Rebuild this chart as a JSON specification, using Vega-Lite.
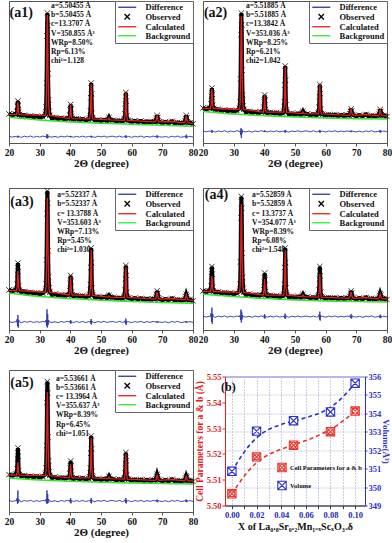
{
"$schema": "https://vega.github.io/schema/vega-lite/v6.json",
"padding": {"left": 0, "top": 0, "right": 0, "bottom": 0},
"background": "white",
"datasets": {
"xrd": [
{"x":20,"c1":28.7,"c2":34.6,"c3":39.7,"c4":38.7,"c5":37,"o1":29.1,"o2":35,"o3":40.1,"o4":39.1,"o5":37.4,"d1":6.9,"d2":12.2,"d3":8.6,"d4":14,"d5":11.6},
{"x":21,"o1":27.9,"o2":33.8,"o3":38.9,"o4":38,"o5":36.3,"d1":5.8,"d2":11.1,"d3":7.5,"d4":12.9,"d5":10.5},
{"x":22,"o1":28.8,"o2":34.7,"o3":39.6,"o4":38.8,"o5":37.2,"d1":6.6,"d2":11.9,"d3":8.3,"d4":13.7,"d5":11.3},
{"x":22.4,"c1":28.4,"c2":34.5,"c3":39.3,"c4":38.5,"c5":36.8,"o1":28.7,"o2":34.9,"o3":40.1,"o4":39.3,"o5":37.8,"d1":6.3,"d2":11.6,"d3":8,"d4":13.4,"d5":11},
{"x":22.65,"c1":30.6,"c2":37.9,"c3":42.8,"c4":41.2,"c5":39.1,"o1":31.5,"o2":39.2,"o3":45.8,"o4":44.4,"o5":43.3,"d1":6.7,"d2":12.2,"d3":10.8,"d4":17,"d5":14},
{"x":22.78,"c1":36.5,"c2":47,"c3":51.9,"c4":48.4,"c5":45.2,"o1":36.4,"o2":46.6,"o3":55.7,"o4":53.3,"o5":53,"d1":5.7,"d2":10.7,"d3":3.8,"d4":8,"d5":8},
{"x":22.9,"c1":41,"c2":54,"c3":59,"c4":54,"c5":50,"o1":42,"o2":55,"o3":67,"o4":63.5,"o5":64,"d1":7.3,"d2":13.1,"d3":15,"d4":22.4,"d5":21.5},
{"x":23.02,"c1":36.5,"c2":47,"c3":51.9,"c4":48.4,"c5":45.2,"o1":37.8,"o2":48.7,"o3":58.5,"o4":55.9,"o5":55.7,"d1":5.5,"d2":10.4,"d3":2.4,"d4":6.2,"d5":9},
{"x":23.15,"c1":30.6,"c2":37.9,"c3":42.8,"c4":41.2,"c5":39.1,"o1":30.5,"o2":37.7,"o3":43.8,"o4":42.6,"o5":41.4,"d1":6.6,"d2":12.1,"d3":10.1,"d4":16.1,"d5":13},
{"x":23.4,"c1":28.4,"c2":34.5,"c3":39.3,"c4":38.5,"c5":36.8,"o1":28.6,"o2":34.7,"o3":39.8,"o4":39,"o5":37.5,"d1":6.3,"d2":11.6,"d3":8,"d4":13.4,"d5":11},
{"x":24,"o1":27.3,"o2":33.3,"o3":38.1,"o4":37.5,"o5":35.9,"d1":5.6,"d2":10.9,"d3":7.3,"d4":12.7,"d5":10.3},
{"x":25,"o1":27.9,"o2":33.8,"o3":38.6,"o4":38.1,"o5":36.5,"d1":6.8,"d2":12.1,"d3":8.5,"d4":13.9,"d5":11.5},
{"x":26,"o1":26.5,"o2":32.4,"o3":37.1,"o4":36.7,"o5":35.2,"d1":6,"d2":11.3,"d3":7.7,"d4":13.1,"d5":10.7},
{"x":27,"o1":27.1,"o2":33.1,"o3":37.7,"o4":37.4,"o5":35.9,"d1":7,"d2":12.3,"d3":8.7,"d4":14.1,"d5":11.7},
{"x":28,"o1":26.1,"o2":32.1,"o3":36.7,"o4":36.5,"o5":35,"d1":5.7,"d2":11,"d3":7.4,"d4":12.8,"d5":10.4},
{"x":29,"o1":26.7,"o2":32.7,"o3":37.1,"o4":37,"o5":35.6,"d1":6.7,"d2":12,"d3":8.4,"d4":13.8,"d5":11.4},
{"x":30,"o1":25.5,"o2":31.5,"o3":35.9,"o4":35.9,"o5":34.5,"d1":5.9,"d2":11.2,"d3":7.6,"d4":13,"d5":10.6},
{"x":31,"o1":26.4,"o2":32.4,"o3":36.8,"o4":36.8,"o5":35.5,"d1":6.9,"d2":12.2,"d3":8.6,"d4":14,"d5":11.6},
{"x":31.9,"c1":27.6,"c2":33.5,"c3":37.8,"c4":37.7,"c5":36.4,"o1":28.6,"o2":34.6,"o3":39,"o4":38.8,"o5":37.6,"d1":6.3,"d2":11.6,"d3":8,"d4":13.4,"d5":11},
{"x":32.1,"c1":33.7,"c2":39.2,"c3":43.6,"c4":43.1,"c5":41.5,"o1":36,"o2":41.4,"o3":46.2,"o4":45.7,"o5":44.3,"d1":6.8,"d2":12.4,"d3":10,"d4":14.8,"d5":13},
{"x":32.25,"c1":56.3,"c2":60.2,"c3":64.7,"c4":62.8,"c5":60.3,"o1":60,"o2":64.1,"o3":69.9,"o4":68.1,"o5":66.3,"d1":5.1,"d2":8,"d3":4,"d4":9.9,"d5":8.5},
{"x":32.38,"c1":107.5,"c2":107.9,"c3":112.8,"c4":107.7,"c5":103,"o1":107,"o2":108.4,"o3":116.3,"o4":112,"o5":109.4,"d1":8.8,"d2":14.8,"d3":20.7,"d4":20.4,"d5":21.7},
{"x":32.5,"c1":128,"c2":127,"c3":132,"c4":125.7,"c5":120,"o1":130,"o2":130,"o3":139,"o4":133.5,"o5":130.5,"d1":4.6,"d2":5,"d3":2.4,"d4":7.4,"d5":8.4},
{"x":32.62,"c1":112.6,"c2":112.7,"c3":117.6,"c4":112.2,"c5":107.2,"o1":117.5,"o2":118.2,"o3":126.6,"o4":121.8,"o5":119,"d1":8.3,"d2":14,"d3":16,"d4":18.5,"d5":18},
{"x":32.75,"c1":71.6,"c2":74.5,"c3":79.1,"c4":76.3,"c5":73.1,"o1":69.4,"o2":72.9,"o3":79.2,"o4":76.9,"o5":75,"d1":5.3,"d2":9.6,"d3":5,"d4":10.6,"d5":9},
{"x":32.9,"c1":40.9,"c2":45.9,"c3":50.3,"c4":49.4,"c5":47.5,"o1":43.3,"o2":48.3,"o3":53.4,"o4":52.5,"o5":51,"d1":6.8,"d2":12.4,"d3":10,"d4":14.8,"d5":13},
{"x":33.1,"c1":30.6,"c2":36.4,"c3":40.7,"c4":40.4,"c5":39,"o1":31.8,"o2":37.5,"o3":42.1,"o4":41.8,"o5":40.4,"d1":6.3,"d2":11.6,"d3":8,"d4":13.4,"d5":11},
{"x":33.3,"c1":27.6,"c2":33.5,"c3":37.8,"c4":37.7,"c5":36.4,"o1":27.6,"o2":33.6,"o3":38,"o4":37.9,"o5":36.6,"d1":6.3,"d2":11.6,"d3":8,"d4":13.4,"d5":11},
{"x":34,"o1":24.9,"o2":31,"o3":35.3,"o4":35.3,"o5":34.2,"d1":5.8,"d2":11.1,"d3":7.5,"d4":12.9,"d5":10.5},
{"x":35,"o1":25.5,"o2":31.7,"o3":35.9,"o4":35.9,"o5":34.9,"d1":6.6,"d2":11.9,"d3":8.3,"d4":13.7,"d5":11.3},
{"x":36,"o1":24.2,"o2":30.4,"o3":34.6,"o4":34.6,"o5":33.6,"d1":5.6,"d2":10.9,"d3":7.3,"d4":12.7,"d5":10.3},
{"x":37,"o1":24.9,"o2":31.1,"o3":35.3,"o4":35.3,"o5":34.4,"d1":6.8,"d2":12.1,"d3":8.5,"d4":13.9,"d5":11.5},
{"x":38,"o1":24,"o2":30.2,"o3":34.4,"o4":34.4,"o5":33.6,"d1":6,"d2":11.3,"d3":7.7,"d4":13.1,"d5":10.7},
{"x":39,"o1":24.6,"o2":30.9,"o3":35,"o4":35,"o5":34.2,"d1":7,"d2":12.3,"d3":8.7,"d4":14.1,"d5":11.7},
{"x":39.6,"c1":24.4,"c2":30.8,"c3":35,"c4":34.9,"c5":34.1,"o1":24.7,"o2":31.2,"o3":35.4,"o4":35.5,"o5":34.6,"d1":6.3,"d2":11.6,"d3":8,"d4":13.4,"d5":11},
{"x":39.85,"c1":26.8,"c2":33.8,"c3":38.1,"c4":37.7,"c5":36.6,"o1":27.6,"o2":34.7,"o3":39.4,"o4":40.1,"o5":38,"d1":6.6,"d2":12,"d3":8.8,"d4":14.4,"d5":12.2},
{"x":39.98,"c1":33.1,"c2":41.8,"c3":46.5,"c4":45.2,"c5":43,"o1":32.7,"o2":40.9,"o3":46.5,"o4":48,"o5":44.1,"d1":5.8,"d2":11,"d3":6.8,"d4":11.9,"d5":9.2},
{"x":40.1,"c1":38,"c2":48,"c3":53,"c4":51,"c5":48,"o1":38.5,"o2":48,"o3":54.5,"o4":57,"o5":51,"d1":7.1,"d2":12.6,"d3":10,"d4":15.9,"d5":14},
{"x":40.22,"c1":33.1,"c2":41.8,"c3":46.5,"c4":45.2,"c5":43,"o1":34.2,"o2":42.7,"o3":48.5,"o4":50.2,"o5":45.8,"d1":5.7,"d2":10.8,"d3":6.4,"d4":11.4,"d5":8.6},
{"x":40.35,"c1":26.8,"c2":33.8,"c3":38.1,"c4":37.7,"c5":36.6,"o1":26.6,"o2":33.5,"o3":38,"o4":38.5,"o5":36.8,"d1":6.5,"d2":11.9,"d3":8.6,"d4":14.2,"d5":11.9},
{"x":40.6,"c1":24.4,"c2":30.8,"c3":35,"c4":34.9,"c5":34.1,"o1":24.6,"o2":31,"o3":35.2,"o4":35.3,"o5":34.4,"d1":6.3,"d2":11.6,"d3":8,"d4":13.4,"d5":11},
{"x":41,"o1":23.4,"o2":29.7,"o3":33.7,"o4":33.8,"o5":33.1,"d1":5.7,"d2":11,"d3":7.4,"d4":12.8,"d5":10.4},
{"x":42,"o1":24.3,"o2":30.6,"o3":34.7,"o4":34.7,"o5":34.1,"d1":6.7,"d2":12,"d3":8.4,"d4":13.8,"d5":11.4},
{"x":43,"o1":23.3,"o2":29.6,"o3":33.6,"o4":33.7,"o5":33.1,"d1":5.9,"d2":11.2,"d3":7.6,"d4":13,"d5":10.6},
{"x":44,"o1":24,"o2":30.3,"o3":34.2,"o4":34.3,"o5":33.8,"d1":6.9,"d2":12.2,"d3":8.6,"d4":14,"d5":11.6},
{"x":45,"o1":22.8,"o2":29.1,"o3":33,"o4":33.1,"o5":32.6,"d1":5.8,"d2":11.1,"d3":7.5,"d4":12.9,"d5":10.5},
{"x":46,"o1":23.5,"o2":29.8,"o3":33.7,"o4":33.9,"o5":33.4,"d1":6.6,"d2":11.9,"d3":8.3,"d4":13.7,"d5":11.3},
{"x":46.3,"c1":24.2,"c2":30.8,"c3":34.6,"c4":34.8,"c5":34.2,"o1":24.9,"o2":31.8,"o3":35.6,"o4":35.8,"o5":35.2,"d1":6.3,"d2":11.6,"d3":8,"d4":13.4,"d5":11},
{"x":46.55,"c1":30.3,"c2":38.7,"c3":42.6,"c4":42.7,"c5":41.2,"o1":32.3,"o2":41.3,"o3":45.4,"o4":45.6,"o5":43.8,"d1":6.7,"d2":12.2,"d3":9.2,"d4":14.6,"d5":12.2},
{"x":46.68,"c1":46.4,"c2":59.7,"c3":63.6,"c4":63.7,"c5":59.7,"o1":45.2,"o2":58,"o3":62.5,"o4":62.6,"o5":58.8,"d1":5.7,"d2":10.7,"d3":6.2,"d4":11.6,"d5":9.2},
{"x":46.8,"c1":59,"c2":76,"c3":80,"c4":80,"c5":74,"o1":60,"o2":77,"o3":82,"o4":82,"o5":76,"d1":7.3,"d2":13.1,"d3":11,"d4":16.4,"d5":14},
{"x":46.92,"c1":46.4,"c2":59.7,"c3":63.6,"c4":63.7,"c5":59.7,"o1":48.9,"o2":62.7,"o3":67.4,"o4":67.4,"o5":63.1,"d1":5.5,"d2":10.4,"d3":5.6,"d4":11,"d5":8.6},
{"x":47.05,"c1":30.3,"c2":38.7,"c3":42.6,"c4":42.7,"c5":41.2,"o1":29.7,"o2":38,"o3":42,"o4":42.1,"o5":40.7,"d1":6.6,"d2":12.1,"d3":8.9,"d4":14.3,"d5":11.9},
{"x":47.3,"c1":24.2,"c2":30.8,"c3":34.6,"c4":34.8,"c5":34.2,"o1":24.6,"o2":31.3,"o3":35.2,"o4":35.3,"o5":34.7,"d1":6.3,"d2":11.6,"d3":8,"d4":13.4,"d5":11},
{"x":48,"o1":22.6,"o2":28.9,"o3":32.6,"o4":32.9,"o5":32.5,"d1":5.6,"d2":10.9,"d3":7.3,"d4":12.7,"d5":10.3},
{"x":49,"o1":23.2,"o2":29.5,"o3":33.3,"o4":33.5,"o5":33.2,"d1":6.8,"d2":12.1,"d3":8.5,"d4":13.9,"d5":11.5},
{"x":50,"o1":22.2,"o2":28.5,"o3":32.2,"o4":32.5,"o5":32.2,"d1":6,"d2":11.3,"d3":7.7,"d4":13.1,"d5":10.7},
{"x":51,"o1":23.2,"o2":29.5,"o3":33.2,"o4":33.5,"o5":33.2,"d1":7,"d2":12.3,"d3":8.7,"d4":14.1,"d5":11.7},
{"x":52,"o1":22.2,"o2":28.5,"o3":32.1,"o4":32.5,"o5":32.3,"d1":5.7,"d2":11,"d3":7.4,"d4":12.8,"d5":10.4},
{"x":52.3,"c1":23.2,"c2":29.4,"c3":32.9,"c4":33.4,"c5":33.3,"o1":23.3,"o2":29.5,"o3":33,"o4":33.5,"o5":33.4,"d1":6.6,"d2":11.9,"d3":8.3,"d4":13.7,"d5":11.3},
{"x":52.6,"c1":25,"c2":31,"c3":34,"c4":35,"c5":35,"o1":25.5,"o2":31.5,"o3":34.5,"o4":35.5,"o5":35.5,"d1":5.8,"d2":11.1,"d3":7.5,"d4":12.9,"d5":10.5},
{"x":52.9,"c1":23.2,"c2":29.4,"c3":32.9,"c4":33.4,"c5":33.3,"o1":23.4,"o2":29.6,"o3":33,"o4":33.5,"o5":33.4,"d1":6.7,"d2":12,"d3":8.4,"d4":13.8,"d5":11.4},
{"x":54,"o1":22.8,"o2":29.1,"o3":32.7,"o4":33.1,"o5":32.9,"d1":6.7,"d2":12,"d3":8.4,"d4":13.8,"d5":11.4},
{"x":55,"o1":21.6,"o2":27.9,"o3":31.5,"o4":31.9,"o5":31.8,"d1":5.9,"d2":11.2,"d3":7.6,"d4":13,"d5":10.6},
{"x":56,"o1":22.4,"o2":28.7,"o3":32.2,"o4":32.7,"o5":32.6,"d1":6.9,"d2":12.2,"d3":8.6,"d4":14,"d5":11.6},
{"x":57,"o1":21.6,"o2":27.9,"o3":31.4,"o4":31.9,"o5":31.8,"d1":5.8,"d2":11.1,"d3":7.5,"d4":12.9,"d5":10.5},
{"x":57.6,"c1":22.7,"c2":29.1,"c3":32.5,"c4":32.9,"c5":32.9,"o1":23.3,"o2":29.7,"o3":33.2,"o4":33.8,"o5":33.5,"d1":6.3,"d2":11.6,"d3":8,"d4":13.4,"d5":11},
{"x":57.85,"c1":27.5,"c2":34.2,"c3":37.9,"c4":37,"c5":37.3,"o1":29.1,"o2":35.8,"o3":39.8,"o4":40,"o5":39,"d1":6.9,"d2":12.2,"d3":9.4,"d4":15.4,"d5":12.2},
{"x":57.98,"c1":40.2,"c2":47.6,"c3":52,"c4":47.7,"c5":48.9,"o1":39.1,"o2":46.4,"o3":51.3,"o4":51,"o5":48.5,"d1":5.4,"d2":10.7,"d3":5.9,"d4":10.4,"d5":9.2},
{"x":58.1,"c1":50,"c2":58,"c3":63,"c4":56,"c5":58,"o1":50.5,"o2":58.5,"o3":64.5,"o4":63.5,"o5":59.5,"d1":7.8,"d2":13.1,"d3":11.5,"d4":18.4,"d5":14},
{"x":58.22,"c1":40.2,"c2":47.6,"c3":52,"c4":47.7,"c5":48.9,"o1":41.9,"o2":49.4,"o3":54.6,"o4":54.1,"o5":51.3,"d1":5.1,"d2":10.4,"d3":5.2,"d4":9.4,"d5":8.6},
{"x":58.35,"c1":27.5,"c2":34.2,"c3":37.9,"c4":37,"c5":37.3,"o1":27,"o2":33.7,"o3":37.5,"o4":37.8,"o5":37,"d1":6.8,"d2":12.1,"d3":9.1,"d4":14.9,"d5":11.9},
{"x":58.6,"c1":22.7,"c2":29.1,"c3":32.5,"c4":32.9,"c5":32.9,"o1":23,"o2":29.4,"o3":32.9,"o4":33.5,"o5":33.2,"d1":6.3,"d2":11.6,"d3":8,"d4":13.4,"d5":11},
{"x":59,"o1":22.2,"o2":28.5,"o3":31.9,"o4":32.5,"o5":32.5,"d1":6.6,"d2":11.9,"d3":8.3,"d4":13.7,"d5":11.3},
{"x":60,"o1":21.2,"o2":27.5,"o3":30.9,"o4":31.5,"o5":31.5,"d1":5.6,"d2":10.9,"d3":7.3,"d4":12.7,"d5":10.3},
{"x":61,"o1":22.2,"o2":28.5,"o3":31.9,"o4":32.5,"o5":32.5,"d1":6.8,"d2":12.1,"d3":8.5,"d4":13.9,"d5":11.5},
{"x":62,"o1":21.2,"o2":27.6,"o3":30.9,"o4":31.6,"o5":31.6,"d1":6,"d2":11.3,"d3":7.7,"d4":13.1,"d5":10.7},
{"x":63,"o1":21.9,"o2":28.3,"o3":31.6,"o4":32.3,"o5":32.3,"d1":7,"d2":12.3,"d3":8.7,"d4":14.1,"d5":11.7},
{"x":64,"o1":20.7,"o2":27.1,"o3":30.4,"o4":31.2,"o5":31.2,"d1":5.7,"d2":11,"d3":7.4,"d4":12.8,"d5":10.4},
{"x":65,"o1":21.5,"o2":28,"o3":31.2,"o4":32,"o5":32,"d1":6.7,"d2":12,"d3":8.4,"d4":13.8,"d5":11.4},
{"x":66,"o1":20.7,"o2":27.2,"o3":30.4,"o4":31.2,"o5":31.2,"d1":5.9,"d2":11.2,"d3":7.6,"d4":13,"d5":10.6},
{"x":67,"o1":21.4,"o2":27.9,"o3":31.1,"o4":32,"o5":32,"d1":6.9,"d2":12.2,"d3":8.6,"d4":14,"d5":11.6},
{"x":67.6,"c1":21.1,"c2":27.6,"c3":30.8,"c4":31.7,"c5":31.7,"o1":21.2,"o2":27.7,"o3":31,"o4":31.9,"o5":31.8,"d1":6.3,"d2":11.6,"d3":8,"d4":13.4,"d5":11},
{"x":67.95,"c1":22.1,"c2":28.7,"c3":32.1,"c4":32.8,"c5":32.6,"o1":22.6,"o2":29.1,"o3":32.7,"o4":33.4,"o5":33,"d1":6.9,"d2":12,"d3":8.4,"d4":14.4,"d5":11.6},
{"x":68.12,"c1":24.9,"c2":31.7,"c3":35.4,"c4":35.7,"c5":35.1,"o1":24.9,"o2":31.4,"o3":35.6,"o4":36,"o5":35.1,"d1":5.4,"d2":11,"d3":7.4,"d4":11.9,"d5":10.1},
{"x":68.3,"c1":27,"c2":34,"c3":38,"c4":38,"c5":37,"o1":27.5,"o2":34,"o3":39,"o4":39,"o5":37.5,"d1":7.8,"d2":12.6,"d3":9,"d4":15.9,"d5":12.5},
{"x":68.48,"c1":24.9,"c2":31.7,"c3":35.4,"c4":35.7,"c5":35.1,"o1":25.5,"o2":32,"o3":36.5,"o4":36.8,"o5":35.7,"d1":5.1,"d2":10.8,"d3":7.2,"d4":11.4,"d5":9.8},
{"x":68.65,"c1":22.1,"c2":28.7,"c3":32.1,"c4":32.8,"c5":32.6,"o1":22.1,"o2":28.6,"o3":32.1,"o4":32.9,"o5":32.6,"d1":6.8,"d2":11.9,"d3":8.3,"d4":14.2,"d5":11.5},
{"x":69,"c1":21.1,"c2":27.6,"c3":30.8,"c4":31.7,"c5":31.7,"o1":21.2,"o2":27.7,"o3":30.9,"o4":31.8,"o5":31.7,"d1":6.3,"d2":11.6,"d3":8,"d4":13.4,"d5":11},
{"x":70,"o1":20.2,"o2":26.8,"o3":29.9,"o4":30.9,"o5":30.9,"d1":5.8,"d2":11.1,"d3":7.5,"d4":12.9,"d5":10.5},
{"x":71,"o1":21.2,"o2":27.9,"o3":30.9,"o4":32,"o5":32,"d1":6.6,"d2":11.9,"d3":8.3,"d4":13.7,"d5":11.3},
{"x":72,"o1":20.2,"o2":26.9,"o3":30,"o4":31,"o5":31,"d1":5.6,"d2":10.9,"d3":7.3,"d4":12.7,"d5":10.3},
{"x":73.2,"c1":21.5,"c2":28.5,"c3":31.5,"c4":32.5,"c5":32.5,"o1":21.7,"o2":28.6,"o3":31.6,"o4":32.6,"o5":32.6,"d1":6.8,"d2":12.1,"d3":8.5,"d4":13.9,"d5":11.5},
{"x":74,"o1":19.7,"o2":26.6,"o3":29.5,"o4":30.6,"o5":30.6,"d1":6,"d2":11.3,"d3":7.7,"d4":13.1,"d5":10.7},
{"x":75,"o1":20.5,"o2":27.5,"o3":30.4,"o4":31.5,"o5":31.5,"d1":7,"d2":12.3,"d3":8.7,"d4":14.1,"d5":11.7},
{"x":76,"o1":19.7,"o2":26.7,"o3":29.6,"o4":30.8,"o5":30.8,"d1":5.7,"d2":11,"d3":7.4,"d4":12.8,"d5":10.4},
{"x":77.1,"c1":20.1,"c2":27.3,"c3":30.1,"c4":31.2,"c5":31.2,"o1":20.3,"o2":27.4,"o3":30.2,"o4":31.4,"o5":31.3,"d1":6.3,"d2":11.6,"d3":8,"d4":13.4,"d5":11},
{"x":77.45,"c1":21.3,"c2":28.3,"c3":30.9,"c4":32.1,"c5":32,"o1":21.8,"o2":28.7,"o3":31.3,"o4":32.5,"o5":32.3,"d1":7.1,"d2":12.2,"d3":8.4,"d4":14.2,"d5":11.6},
{"x":77.62,"c1":24.5,"c2":30.9,"c3":33.2,"c4":34.3,"c5":34,"o1":24.5,"o2":30.9,"o3":33.3,"o4":34.3,"o5":34,"d1":5.1,"d2":10.7,"d3":7.4,"d4":12.2,"d5":10.1},
{"x":77.8,"c1":27,"c2":33,"c3":35,"c4":36,"c5":35.5,"o1":27.5,"o2":33.5,"o3":35.5,"o4":36.5,"o5":36,"d1":8.3,"d2":13.1,"d3":9,"d4":15.4,"d5":12.5},
{"x":77.98,"c1":24.5,"c2":30.9,"c3":33.2,"c4":34.3,"c5":34,"o1":25.2,"o2":31.6,"o3":33.8,"o4":34.9,"o5":34.5,"d1":4.7,"d2":10.4,"d3":7.2,"d4":11.8,"d5":9.8},
{"x":78.15,"c1":21.3,"c2":28.3,"c3":30.9,"c4":32.1,"c5":32,"o1":21.3,"o2":28.3,"o3":30.9,"o4":32.1,"o5":32,"d1":6.9,"d2":12.1,"d3":8.3,"d4":14,"d5":11.5},
{"x":78.5,"c1":20.1,"c2":27.3,"c3":30.1,"c4":31.2,"c5":31.2,"o1":20.2,"o2":27.4,"o3":30.1,"o4":31.3,"o5":31.3,"d1":6.3,"d2":11.6,"d3":8,"d4":13.4,"d5":11},
{"x":79,"o1":20.2,"o2":27.4,"o3":30.2,"o4":31.4,"o5":31.4,"d1":6.7,"d2":12,"d3":8.4,"d4":13.8,"d5":11.4},
{"x":80,"c1":19.7,"c2":27,"c3":29.7,"c4":31,"c5":31,"o1":19.2,"o2":26.5,"o3":29.2,"o4":30.5,"o5":30.5,"d1":5.9,"d2":11.2,"d3":7.6,"d4":13,"d5":10.6}
],
"bgd": [
{"x":20,"g1":25.7,"g2":31.6,"g3":36.7,"g4":35.7,"g5":34},
{"x":30,"g1":23,"g2":29,"g3":33.4,"g4":33.4,"g5":32},
{"x":40,"g1":21,"g2":27.3,"g3":31.4,"g4":31.4,"g5":30.7},
{"x":50,"g1":19.7,"g2":26,"g3":29.7,"g4":30,"g5":29.7},
{"x":60,"g1":18.7,"g2":25,"g3":28.4,"g4":29,"g5":29},
{"x":70,"g1":17.7,"g2":24.3,"g3":27.4,"g4":28.4,"g5":28.4},
{"x":80,"g1":16.7,"g2":24,"g3":26.7,"g4":28,"g5":28}
],
"cell": [
{"x":0,"a":5.50455,"v":350.855},
{"x":0.02,"a":5.51885,"v":353.036},
{"x":0.05,"a":5.52337,"v":353.603},
{"x":0.08,"a":5.52859,"v":354.077},
{"x":0.1,"a":5.53661,"v":355.637}
],
"lab": [
{"p":"a1","t":"(a1)","s":"a=5.50455 Å\nb=5.50455 Å\nc=13.3707 Å\nV=350.855 Å³\nWRp=8.50%\nRp=6.13%\nchi²=1.128"},
{"p":"a2","t":"(a2)","s":"a=5.51885 Å\nb=5.51885 Å\nc=13.3842 Å\nV=353.036 Å³\nWRp=8.25%\nRp=6.21%\nchi2=1.042"},
{"p":"a3","t":"(a3)","s":"a=5.52337 Å\nb=5.52337 Å\nc= 13.3788 Å\nV=353.603 Å³\nWRp=7.13%\nRp=5.45%\nchi²=1.030"},
{"p":"a4","t":"(a4)","s":"a=5.52859 Å\nb=5.52859 Å\nc= 13.3737 Å\nV=354.077 Å³\nWRp=8.39%\nRp=6.08%\nchi²=1.548"},
{"p":"a5","t":"(a5)","s":"a=5.53661 Å\nb=5.53661 Å\nc= 13.3964 Å\nV=355.637 Å³\nWRp=8.39%\nRp=6.45%\nchi²=1.051"},
{"p":"b","t":"(b)","s":""}
]
},
"spacing": 13,
"resolve": {"scale": {"color": "independent", "shape": "independent"}},
"vconcat": [
{"hconcat": [
{"width": 184, "height": 142,
"layer": [
{"data": {"name": "xrd"}, "mark": {"type": "line", "color": "#000000", "strokeWidth": 4}, "encoding": {"x": {"field": "x", "type": "quantitative", "scale": {"domain": [20, 80], "nice": false, "zero": false}, "axis": {"values": [20,30,40,50,60,70,80], "title": "2Θ (degree)"}}, "y": {"field": "o1", "type": "quantitative", "scale": {"domain": [0, 142], "nice": false, "zero": false}, "axis": null}}},
{"data": {"name": "xrd"}, "mark": {"type": "point", "filled": false, "size": 36, "strokeWidth": 0.8, "opacity": 1}, "encoding": {"x": {"field": "x", "type": "quantitative", "scale": {"domain": [20, 80], "nice": false, "zero": false}, "axis": {"values": [20,30,40,50,60,70,80], "title": "2Θ (degree)"}}, "y": {"field": "o1", "type": "quantitative", "scale": {"domain": [0, 142], "nice": false, "zero": false}, "axis": null},
 "color": {"datum": "Observed", "type": "nominal", "scale": {"domain": ["Difference","Observed","Calculated","Background"], "range": ["#2a36a8","#000000","#e41e1e","#2be82b"]}, "legend": {"title": null, "orient": "top-right", "offset": 0, "symbolOffset": 6, "labelOffset": 14, "padding": 2, "rowPadding": -1.5, "strokeColor": "#666", "fillColor": "#ffffff", "labelFontSize": 8.5, "symbolStrokeWidth": 1.3, "symbolSize": 36}},
 "shape": {"datum": "Observed", "type": "nominal", "scale": {"domain": ["Difference","Observed","Calculated","Background"], "range": ["M-3,0H3","M-0.9,-0.9L0.9,0.9M-0.9,0.9L0.9,-0.9","M-3,0H3","M-3,0H3"]}, "legend": {"title": null, "orient": "top-right", "offset": 0, "symbolOffset": 6, "labelOffset": 14, "padding": 2, "rowPadding": -1.5, "strokeColor": "#666", "fillColor": "#ffffff", "labelFontSize": 8.5, "symbolStrokeWidth": 1.3, "symbolSize": 36}}}},
{"data": {"name": "xrd"}, "mark": {"type": "line", "color": "#e41e1e", "strokeWidth": 1.3, "invalid": "filter"}, "encoding": {"x": {"field": "x", "type": "quantitative", "scale": {"domain": [20, 80], "nice": false, "zero": false}, "axis": {"values": [20,30,40,50,60,70,80], "title": "2Θ (degree)"}}, "y": {"field": "c1", "type": "quantitative", "scale": {"domain": [0, 142], "nice": false, "zero": false}, "axis": null}}},
{"data": {"name": "bgd"}, "mark": {"type": "line", "color": "#2be82b", "strokeWidth": 1.5, "interpolate": "monotone"}, "encoding": {"x": {"field": "x", "type": "quantitative", "scale": {"domain": [20, 80], "nice": false, "zero": false}, "axis": {"values": [20,30,40,50,60,70,80], "title": "2Θ (degree)"}}, "y": {"field": "g1", "type": "quantitative", "scale": {"domain": [0, 142], "nice": false, "zero": false}, "axis": null}}},
{"data": {"name": "xrd"}, "mark": {"type": "line", "color": "#2a36a8", "strokeWidth": 0.9}, "encoding": {"x": {"field": "x", "type": "quantitative", "scale": {"domain": [20, 80], "nice": false, "zero": false}, "axis": {"values": [20,30,40,50,60,70,80], "title": "2Θ (degree)"}}, "y": {"field": "d1", "type": "quantitative", "scale": {"domain": [0, 142], "nice": false, "zero": false}, "axis": null}}},
{"data": {"name": "lab"}, "transform": [{"filter": "datum.p == 'a1'"}], "mark": {"type": "text", "fontSize": 14, "fontWeight": "bold", "align": "left", "baseline": "middle", "fill": "#111"}, "encoding": {"x": {"datum": 20.2, "type": "quantitative", "scale": {"domain": [20, 80], "nice": false, "zero": false}, "axis": {"values": [20,30,40,50,60,70,80], "title": "2Θ (degree)"}}, "y": {"datum": 129.7, "type": "quantitative", "scale": {"domain": [0, 142], "nice": false, "zero": false}, "axis": null}, "text": {"field": "t", "type": "nominal"}}},
{"data": {"name": "lab"}, "transform": [{"filter": "datum.p == 'a1'"}], "mark": {"type": "text", "fontSize": 7.5, "fontWeight": "bold", "align": "left", "baseline": "top", "lineBreak": "\n", "lineHeight": 9.2, "fill": "#111"}, "encoding": {"x": {"datum": 33.7, "type": "quantitative", "scale": {"domain": [20, 80], "nice": false, "zero": false}, "axis": {"values": [20,30,40,50,60,70,80], "title": "2Θ (degree)"}}, "y": {"datum": 141, "type": "quantitative", "scale": {"domain": [0, 142], "nice": false, "zero": false}, "axis": null}, "text": {"field": "s", "type": "nominal"}}}
]},
{"width": 184, "height": 142,
"layer": [
{"data": {"name": "xrd"}, "mark": {"type": "line", "color": "#000000", "strokeWidth": 4}, "encoding": {"x": {"field": "x", "type": "quantitative", "scale": {"domain": [20, 80], "nice": false, "zero": false}, "axis": {"values": [20,30,40,50,60,70,80], "title": "2Θ (degree)"}}, "y": {"field": "o2", "type": "quantitative", "scale": {"domain": [0, 142], "nice": false, "zero": false}, "axis": null}}},
{"data": {"name": "xrd"}, "mark": {"type": "point", "filled": false, "size": 36, "strokeWidth": 0.8, "opacity": 1}, "encoding": {"x": {"field": "x", "type": "quantitative", "scale": {"domain": [20, 80], "nice": false, "zero": false}, "axis": {"values": [20,30,40,50,60,70,80], "title": "2Θ (degree)"}}, "y": {"field": "o2", "type": "quantitative", "scale": {"domain": [0, 142], "nice": false, "zero": false}, "axis": null},
 "color": {"datum": "Observed", "type": "nominal", "scale": {"domain": ["Difference","Observed","Calculated","Background"], "range": ["#2a36a8","#000000","#e41e1e","#2be82b"]}, "legend": {"title": null, "orient": "top-right", "offset": 0, "symbolOffset": 6, "labelOffset": 14, "padding": 2, "rowPadding": -1.5, "strokeColor": "#666", "fillColor": "#ffffff", "labelFontSize": 8.5, "symbolStrokeWidth": 1.3, "symbolSize": 36}},
 "shape": {"datum": "Observed", "type": "nominal", "scale": {"domain": ["Difference","Observed","Calculated","Background"], "range": ["M-3,0H3","M-0.9,-0.9L0.9,0.9M-0.9,0.9L0.9,-0.9","M-3,0H3","M-3,0H3"]}, "legend": {"title": null, "orient": "top-right", "offset": 0, "symbolOffset": 6, "labelOffset": 14, "padding": 2, "rowPadding": -1.5, "strokeColor": "#666", "fillColor": "#ffffff", "labelFontSize": 8.5, "symbolStrokeWidth": 1.3, "symbolSize": 36}}}},
{"data": {"name": "xrd"}, "mark": {"type": "line", "color": "#e41e1e", "strokeWidth": 1.3, "invalid": "filter"}, "encoding": {"x": {"field": "x", "type": "quantitative", "scale": {"domain": [20, 80], "nice": false, "zero": false}, "axis": {"values": [20,30,40,50,60,70,80], "title": "2Θ (degree)"}}, "y": {"field": "c2", "type": "quantitative", "scale": {"domain": [0, 142], "nice": false, "zero": false}, "axis": null}}},
{"data": {"name": "bgd"}, "mark": {"type": "line", "color": "#2be82b", "strokeWidth": 1.5, "interpolate": "monotone"}, "encoding": {"x": {"field": "x", "type": "quantitative", "scale": {"domain": [20, 80], "nice": false, "zero": false}, "axis": {"values": [20,30,40,50,60,70,80], "title": "2Θ (degree)"}}, "y": {"field": "g2", "type": "quantitative", "scale": {"domain": [0, 142], "nice": false, "zero": false}, "axis": null}}},
{"data": {"name": "xrd"}, "mark": {"type": "line", "color": "#2a36a8", "strokeWidth": 0.9}, "encoding": {"x": {"field": "x", "type": "quantitative", "scale": {"domain": [20, 80], "nice": false, "zero": false}, "axis": {"values": [20,30,40,50,60,70,80], "title": "2Θ (degree)"}}, "y": {"field": "d2", "type": "quantitative", "scale": {"domain": [0, 142], "nice": false, "zero": false}, "axis": null}}},
{"data": {"name": "lab"}, "transform": [{"filter": "datum.p == 'a2'"}], "mark": {"type": "text", "fontSize": 14, "fontWeight": "bold", "align": "left", "baseline": "middle", "fill": "#111"}, "encoding": {"x": {"datum": 20.3, "type": "quantitative", "scale": {"domain": [20, 80], "nice": false, "zero": false}, "axis": {"values": [20,30,40,50,60,70,80], "title": "2Θ (degree)"}}, "y": {"datum": 129.7, "type": "quantitative", "scale": {"domain": [0, 142], "nice": false, "zero": false}, "axis": null}, "text": {"field": "t", "type": "nominal"}}},
{"data": {"name": "lab"}, "transform": [{"filter": "datum.p == 'a2'"}], "mark": {"type": "text", "fontSize": 7.5, "fontWeight": "bold", "align": "left", "baseline": "top", "lineBreak": "\n", "lineHeight": 9.2, "fill": "#111"}, "encoding": {"x": {"datum": 34.0, "type": "quantitative", "scale": {"domain": [20, 80], "nice": false, "zero": false}, "axis": {"values": [20,30,40,50,60,70,80], "title": "2Θ (degree)"}}, "y": {"datum": 141, "type": "quantitative", "scale": {"domain": [0, 142], "nice": false, "zero": false}, "axis": null}, "text": {"field": "s", "type": "nominal"}}}
]}
], "spacing": 10, "bounds": "flush", "resolve": {"scale": {"color": "independent", "shape": "independent"}}},
{"hconcat": [
{"width": 184, "height": 142,
"layer": [
{"data": {"name": "xrd"}, "mark": {"type": "line", "color": "#000000", "strokeWidth": 4}, "encoding": {"x": {"field": "x", "type": "quantitative", "scale": {"domain": [20, 80], "nice": false, "zero": false}, "axis": {"values": [20,30,40,50,60,70,80], "title": "2Θ (degree)"}}, "y": {"field": "o3", "type": "quantitative", "scale": {"domain": [0, 142], "nice": false, "zero": false}, "axis": null}}},
{"data": {"name": "xrd"}, "mark": {"type": "point", "filled": false, "size": 36, "strokeWidth": 0.8, "opacity": 1}, "encoding": {"x": {"field": "x", "type": "quantitative", "scale": {"domain": [20, 80], "nice": false, "zero": false}, "axis": {"values": [20,30,40,50,60,70,80], "title": "2Θ (degree)"}}, "y": {"field": "o3", "type": "quantitative", "scale": {"domain": [0, 142], "nice": false, "zero": false}, "axis": null},
 "color": {"datum": "Observed", "type": "nominal", "scale": {"domain": ["Difference","Observed","Calculated","Background"], "range": ["#2a36a8","#000000","#e41e1e","#2be82b"]}, "legend": {"title": null, "orient": "top-right", "offset": 0, "symbolOffset": 6, "labelOffset": 14, "padding": 2, "rowPadding": -1.5, "strokeColor": "#666", "fillColor": "#ffffff", "labelFontSize": 8.5, "symbolStrokeWidth": 1.3, "symbolSize": 36}},
 "shape": {"datum": "Observed", "type": "nominal", "scale": {"domain": ["Difference","Observed","Calculated","Background"], "range": ["M-3,0H3","M-0.9,-0.9L0.9,0.9M-0.9,0.9L0.9,-0.9","M-3,0H3","M-3,0H3"]}, "legend": {"title": null, "orient": "top-right", "offset": 0, "symbolOffset": 6, "labelOffset": 14, "padding": 2, "rowPadding": -1.5, "strokeColor": "#666", "fillColor": "#ffffff", "labelFontSize": 8.5, "symbolStrokeWidth": 1.3, "symbolSize": 36}}}},
{"data": {"name": "xrd"}, "mark": {"type": "line", "color": "#e41e1e", "strokeWidth": 1.3, "invalid": "filter"}, "encoding": {"x": {"field": "x", "type": "quantitative", "scale": {"domain": [20, 80], "nice": false, "zero": false}, "axis": {"values": [20,30,40,50,60,70,80], "title": "2Θ (degree)"}}, "y": {"field": "c3", "type": "quantitative", "scale": {"domain": [0, 142], "nice": false, "zero": false}, "axis": null}}},
{"data": {"name": "bgd"}, "mark": {"type": "line", "color": "#2be82b", "strokeWidth": 1.5, "interpolate": "monotone"}, "encoding": {"x": {"field": "x", "type": "quantitative", "scale": {"domain": [20, 80], "nice": false, "zero": false}, "axis": {"values": [20,30,40,50,60,70,80], "title": "2Θ (degree)"}}, "y": {"field": "g3", "type": "quantitative", "scale": {"domain": [0, 142], "nice": false, "zero": false}, "axis": null}}},
{"data": {"name": "xrd"}, "mark": {"type": "line", "color": "#2a36a8", "strokeWidth": 0.9}, "encoding": {"x": {"field": "x", "type": "quantitative", "scale": {"domain": [20, 80], "nice": false, "zero": false}, "axis": {"values": [20,30,40,50,60,70,80], "title": "2Θ (degree)"}}, "y": {"field": "d3", "type": "quantitative", "scale": {"domain": [0, 142], "nice": false, "zero": false}, "axis": null}}},
{"data": {"name": "lab"}, "transform": [{"filter": "datum.p == 'a3'"}], "mark": {"type": "text", "fontSize": 14, "fontWeight": "bold", "align": "left", "baseline": "middle", "fill": "#111"}, "encoding": {"x": {"datum": 20.4, "type": "quantitative", "scale": {"domain": [20, 80], "nice": false, "zero": false}, "axis": {"values": [20,30,40,50,60,70,80], "title": "2Θ (degree)"}}, "y": {"datum": 128.3, "type": "quantitative", "scale": {"domain": [0, 142], "nice": false, "zero": false}, "axis": null}, "text": {"field": "t", "type": "nominal"}}},
{"data": {"name": "lab"}, "transform": [{"filter": "datum.p == 'a3'"}], "mark": {"type": "text", "fontSize": 7.5, "fontWeight": "bold", "align": "left", "baseline": "top", "lineBreak": "\n", "lineHeight": 9.2, "fill": "#111"}, "encoding": {"x": {"datum": 35.7, "type": "quantitative", "scale": {"domain": [20, 80], "nice": false, "zero": false}, "axis": {"values": [20,30,40,50,60,70,80], "title": "2Θ (degree)"}}, "y": {"datum": 138.7, "type": "quantitative", "scale": {"domain": [0, 142], "nice": false, "zero": false}, "axis": null}, "text": {"field": "s", "type": "nominal"}}}
]},
{"width": 184, "height": 142,
"layer": [
{"data": {"name": "xrd"}, "mark": {"type": "line", "color": "#000000", "strokeWidth": 4}, "encoding": {"x": {"field": "x", "type": "quantitative", "scale": {"domain": [20, 80], "nice": false, "zero": false}, "axis": {"values": [20,30,40,50,60,70,80], "title": "2Θ (degree)"}}, "y": {"field": "o4", "type": "quantitative", "scale": {"domain": [0, 142], "nice": false, "zero": false}, "axis": null}}},
{"data": {"name": "xrd"}, "mark": {"type": "point", "filled": false, "size": 36, "strokeWidth": 0.8, "opacity": 1}, "encoding": {"x": {"field": "x", "type": "quantitative", "scale": {"domain": [20, 80], "nice": false, "zero": false}, "axis": {"values": [20,30,40,50,60,70,80], "title": "2Θ (degree)"}}, "y": {"field": "o4", "type": "quantitative", "scale": {"domain": [0, 142], "nice": false, "zero": false}, "axis": null},
 "color": {"datum": "Observed", "type": "nominal", "scale": {"domain": ["Difference","Observed","Calculated","Background"], "range": ["#2a36a8","#000000","#e41e1e","#2be82b"]}, "legend": {"title": null, "orient": "top-right", "offset": 0, "symbolOffset": 6, "labelOffset": 14, "padding": 2, "rowPadding": -1.5, "strokeColor": "#666", "fillColor": "#ffffff", "labelFontSize": 8.5, "symbolStrokeWidth": 1.3, "symbolSize": 36}},
 "shape": {"datum": "Observed", "type": "nominal", "scale": {"domain": ["Difference","Observed","Calculated","Background"], "range": ["M-3,0H3","M-0.9,-0.9L0.9,0.9M-0.9,0.9L0.9,-0.9","M-3,0H3","M-3,0H3"]}, "legend": {"title": null, "orient": "top-right", "offset": 0, "symbolOffset": 6, "labelOffset": 14, "padding": 2, "rowPadding": -1.5, "strokeColor": "#666", "fillColor": "#ffffff", "labelFontSize": 8.5, "symbolStrokeWidth": 1.3, "symbolSize": 36}}}},
{"data": {"name": "xrd"}, "mark": {"type": "line", "color": "#e41e1e", "strokeWidth": 1.3, "invalid": "filter"}, "encoding": {"x": {"field": "x", "type": "quantitative", "scale": {"domain": [20, 80], "nice": false, "zero": false}, "axis": {"values": [20,30,40,50,60,70,80], "title": "2Θ (degree)"}}, "y": {"field": "c4", "type": "quantitative", "scale": {"domain": [0, 142], "nice": false, "zero": false}, "axis": null}}},
{"data": {"name": "bgd"}, "mark": {"type": "line", "color": "#2be82b", "strokeWidth": 1.5, "interpolate": "monotone"}, "encoding": {"x": {"field": "x", "type": "quantitative", "scale": {"domain": [20, 80], "nice": false, "zero": false}, "axis": {"values": [20,30,40,50,60,70,80], "title": "2Θ (degree)"}}, "y": {"field": "g4", "type": "quantitative", "scale": {"domain": [0, 142], "nice": false, "zero": false}, "axis": null}}},
{"data": {"name": "xrd"}, "mark": {"type": "line", "color": "#2a36a8", "strokeWidth": 0.9}, "encoding": {"x": {"field": "x", "type": "quantitative", "scale": {"domain": [20, 80], "nice": false, "zero": false}, "axis": {"values": [20,30,40,50,60,70,80], "title": "2Θ (degree)"}}, "y": {"field": "d4", "type": "quantitative", "scale": {"domain": [0, 142], "nice": false, "zero": false}, "axis": null}}},
{"data": {"name": "lab"}, "transform": [{"filter": "datum.p == 'a4'"}], "mark": {"type": "text", "fontSize": 14, "fontWeight": "bold", "align": "left", "baseline": "middle", "fill": "#111"}, "encoding": {"x": {"datum": 20.6, "type": "quantitative", "scale": {"domain": [20, 80], "nice": false, "zero": false}, "axis": {"values": [20,30,40,50,60,70,80], "title": "2Θ (degree)"}}, "y": {"datum": 135, "type": "quantitative", "scale": {"domain": [0, 142], "nice": false, "zero": false}, "axis": null}, "text": {"field": "t", "type": "nominal"}}},
{"data": {"name": "lab"}, "transform": [{"filter": "datum.p == 'a4'"}], "mark": {"type": "text", "fontSize": 7.5, "fontWeight": "bold", "align": "left", "baseline": "top", "lineBreak": "\n", "lineHeight": 9.2, "fill": "#111"}, "encoding": {"x": {"datum": 36.0, "type": "quantitative", "scale": {"domain": [20, 80], "nice": false, "zero": false}, "axis": {"values": [20,30,40,50,60,70,80], "title": "2Θ (degree)"}}, "y": {"datum": 138.7, "type": "quantitative", "scale": {"domain": [0, 142], "nice": false, "zero": false}, "axis": null}, "text": {"field": "s", "type": "nominal"}}}
]}
], "spacing": 10, "bounds": "flush", "resolve": {"scale": {"color": "independent", "shape": "independent"}}},
{"hconcat": [
{"width": 184, "height": 142,
"layer": [
{"data": {"name": "xrd"}, "mark": {"type": "line", "color": "#000000", "strokeWidth": 4}, "encoding": {"x": {"field": "x", "type": "quantitative", "scale": {"domain": [20, 80], "nice": false, "zero": false}, "axis": {"values": [20,30,40,50,60,70,80], "title": "2Θ (degree)"}}, "y": {"field": "o5", "type": "quantitative", "scale": {"domain": [0, 142], "nice": false, "zero": false}, "axis": null}}},
{"data": {"name": "xrd"}, "mark": {"type": "point", "filled": false, "size": 36, "strokeWidth": 0.8, "opacity": 1}, "encoding": {"x": {"field": "x", "type": "quantitative", "scale": {"domain": [20, 80], "nice": false, "zero": false}, "axis": {"values": [20,30,40,50,60,70,80], "title": "2Θ (degree)"}}, "y": {"field": "o5", "type": "quantitative", "scale": {"domain": [0, 142], "nice": false, "zero": false}, "axis": null},
 "color": {"datum": "Observed", "type": "nominal", "scale": {"domain": ["Difference","Observed","Calculated","Background"], "range": ["#2a36a8","#000000","#e41e1e","#2be82b"]}, "legend": {"title": null, "orient": "top-right", "offset": 0, "symbolOffset": 6, "labelOffset": 14, "padding": 2, "rowPadding": -1.5, "strokeColor": "#666", "fillColor": "#ffffff", "labelFontSize": 8.5, "symbolStrokeWidth": 1.3, "symbolSize": 36}},
 "shape": {"datum": "Observed", "type": "nominal", "scale": {"domain": ["Difference","Observed","Calculated","Background"], "range": ["M-3,0H3","M-0.9,-0.9L0.9,0.9M-0.9,0.9L0.9,-0.9","M-3,0H3","M-3,0H3"]}, "legend": {"title": null, "orient": "top-right", "offset": 0, "symbolOffset": 6, "labelOffset": 14, "padding": 2, "rowPadding": -1.5, "strokeColor": "#666", "fillColor": "#ffffff", "labelFontSize": 8.5, "symbolStrokeWidth": 1.3, "symbolSize": 36}}}},
{"data": {"name": "xrd"}, "mark": {"type": "line", "color": "#e41e1e", "strokeWidth": 1.3, "invalid": "filter"}, "encoding": {"x": {"field": "x", "type": "quantitative", "scale": {"domain": [20, 80], "nice": false, "zero": false}, "axis": {"values": [20,30,40,50,60,70,80], "title": "2Θ (degree)"}}, "y": {"field": "c5", "type": "quantitative", "scale": {"domain": [0, 142], "nice": false, "zero": false}, "axis": null}}},
{"data": {"name": "bgd"}, "mark": {"type": "line", "color": "#2be82b", "strokeWidth": 1.5, "interpolate": "monotone"}, "encoding": {"x": {"field": "x", "type": "quantitative", "scale": {"domain": [20, 80], "nice": false, "zero": false}, "axis": {"values": [20,30,40,50,60,70,80], "title": "2Θ (degree)"}}, "y": {"field": "g5", "type": "quantitative", "scale": {"domain": [0, 142], "nice": false, "zero": false}, "axis": null}}},
{"data": {"name": "xrd"}, "mark": {"type": "line", "color": "#2a36a8", "strokeWidth": 0.9}, "encoding": {"x": {"field": "x", "type": "quantitative", "scale": {"domain": [20, 80], "nice": false, "zero": false}, "axis": {"values": [20,30,40,50,60,70,80], "title": "2Θ (degree)"}}, "y": {"field": "d5", "type": "quantitative", "scale": {"domain": [0, 142], "nice": false, "zero": false}, "axis": null}}},
{"data": {"name": "lab"}, "transform": [{"filter": "datum.p == 'a5'"}], "mark": {"type": "text", "fontSize": 14, "fontWeight": "bold", "align": "left", "baseline": "middle", "fill": "#111"}, "encoding": {"x": {"datum": 20.4, "type": "quantitative", "scale": {"domain": [20, 80], "nice": false, "zero": false}, "axis": {"values": [20,30,40,50,60,70,80], "title": "2Θ (degree)"}}, "y": {"datum": 128.7, "type": "quantitative", "scale": {"domain": [0, 142], "nice": false, "zero": false}, "axis": null}, "text": {"field": "t", "type": "nominal"}}},
{"data": {"name": "lab"}, "transform": [{"filter": "datum.p == 'a5'"}], "mark": {"type": "text", "fontSize": 7.5, "fontWeight": "bold", "align": "left", "baseline": "top", "lineBreak": "\n", "lineHeight": 9.2, "fill": "#111"}, "encoding": {"x": {"datum": 35.3, "type": "quantitative", "scale": {"domain": [20, 80], "nice": false, "zero": false}, "axis": {"values": [20,30,40,50,60,70,80], "title": "2Θ (degree)"}}, "y": {"datum": 137.5, "type": "quantitative", "scale": {"domain": [0, 142], "nice": false, "zero": false}, "axis": null}, "text": {"field": "s", "type": "nominal"}}}
]},
{"width": 140, "height": 129,
"view": {"stroke": "#5a5ad8"},
"layer": [
{"layer": [
 {"data": {"name": "cell"}, "mark": {"type": "line", "color": "#e8322a", "strokeDash": [4,3], "strokeWidth": 1.6, "interpolate": "basis"}, "encoding": {"x": {"field": "x", "type": "quantitative", "scale": {"domain": [-0.0056, 0.108], "nice": false, "zero": false}, "axis": {"values": [0,0.01,0.02,0.03,0.04,0.05,0.06,0.07,0.08,0.09,0.1], "labelExpr": "round(datum.value*100)%2==0 ? format(datum.value, '.2f') : ''", "title": "X of La₀.₈Sr₀.₂Mn₁₋ₓScₓO₃₋δ", "grid": true, "gridColor": "#c9cbe6", "gridDash": [2,1], "labelColor": "#2a2ab8", "labelFontSize": 8.5, "titleFontSize": 10, "domainColor": "#333", "tickColor": "#333", "labelPadding": 2, "titlePadding": 2}}, "y": {"field": "a", "type": "quantitative", "scale": {"domain": [5.5, 5.55], "zero": false, "nice": false}, "axis": {"orient": "left", "values": [5.5,5.51,5.52,5.53,5.54,5.55], "format": ".2f", "title": "Cell Parameters for a & b (Å)", "titleColor": "#e02020", "labelColor": "#e02020", "domainColor": "#e02020", "tickColor": "#e02020", "grid": false, "labelFontSize": 8.5, "titleFontSize": 9.5, "tickSize": 3, "titlePadding": 2, "labelPadding": 1}}}},
 {"data": {"name": "cell"}, "mark": {"type": "point", "filled": false, "fill": "#ffffff", "size": 70, "strokeWidth": 1.1, "opacity": 1}, "encoding": {"x": {"field": "x", "type": "quantitative", "scale": {"domain": [-0.0056, 0.108], "nice": false, "zero": false}, "axis": {"values": [0,0.01,0.02,0.03,0.04,0.05,0.06,0.07,0.08,0.09,0.1], "labelExpr": "round(datum.value*100)%2==0 ? format(datum.value, '.2f') : ''", "title": "X of La₀.₈Sr₀.₂Mn₁₋ₓScₓO₃₋δ", "grid": true, "gridColor": "#c9cbe6", "gridDash": [2,1], "labelColor": "#2a2ab8", "labelFontSize": 8.5, "titleFontSize": 10, "domainColor": "#333", "tickColor": "#333", "labelPadding": 2, "titlePadding": 2}}, "y": {"field": "a", "type": "quantitative", "scale": {"domain": [5.5, 5.55], "zero": false, "nice": false}, "axis": {"orient": "left", "values": [5.5,5.51,5.52,5.53,5.54,5.55], "format": ".2f", "title": "Cell Parameters for a & b (Å)", "titleColor": "#e02020", "labelColor": "#e02020", "domainColor": "#e02020", "tickColor": "#e02020", "grid": false, "labelFontSize": 8.5, "titleFontSize": 9.5, "tickSize": 3, "titlePadding": 2, "labelPadding": 1}},
  "color": {"datum": "Cell Parameters for a & b", "type": "nominal", "scale": {"domain": ["Cell Parameters for a & b","Volume"], "range": ["#e8322a","#2f2fd0"]}, "legend": {"title": null, "orient": "none", "legendX": 52, "legendY": 86, "labelFontSize": 6.5, "rowPadding": 4, "symbolSize": 70, "symbolStrokeWidth": 1.1, "labelOffset": 3, "padding": 0}},
  "shape": {"datum": "Cell Parameters for a & b", "type": "nominal", "scale": {"domain": ["Cell Parameters for a & b","Volume"], "range": ["M-1,-1H1V1H-1Z M-1,-1L1,1 M-1,1L1,-1 M0.7,0A0.7,0.7 0 1,1 -0.7,0A0.7,0.7 0 1,1 0.7,0","M-1,-1H1V1H-1Z M-1,-1L1,1 M-1,1L1,-1"]}, "legend": {"title": null, "orient": "none", "legendX": 52, "legendY": 86, "labelFontSize": 6.5, "rowPadding": 4, "symbolSize": 70, "symbolStrokeWidth": 1.1, "labelOffset": 3, "padding": 0}}}},
 {"data": {"name": "lab"}, "transform": [{"filter": "datum.p == 'b'"}], "mark": {"type": "text", "fontSize": 12, "fontWeight": "bold", "align": "left", "baseline": "middle", "dx": -4, "fill": "#111"}, "encoding": {"x": {"datum": -0.0056, "type": "quantitative", "scale": {"domain": [-0.0056, 0.108], "nice": false, "zero": false}, "axis": {"values": [0,0.01,0.02,0.03,0.04,0.05,0.06,0.07,0.08,0.09,0.1], "labelExpr": "round(datum.value*100)%2==0 ? format(datum.value, '.2f') : ''", "title": "X of La₀.₈Sr₀.₂Mn₁₋ₓScₓO₃₋δ", "grid": true, "gridColor": "#c9cbe6", "gridDash": [2,1], "labelColor": "#2a2ab8", "labelFontSize": 8.5, "titleFontSize": 10, "domainColor": "#333", "tickColor": "#333", "labelPadding": 2, "titlePadding": 2}}, "y": {"datum": 5.5461, "type": "quantitative", "scale": {"domain": [5.5, 5.55], "zero": false, "nice": false}, "axis": {"orient": "left", "values": [5.5,5.51,5.52,5.53,5.54,5.55], "format": ".2f", "title": "Cell Parameters for a & b (Å)", "titleColor": "#e02020", "labelColor": "#e02020", "domainColor": "#e02020", "tickColor": "#e02020", "grid": false, "labelFontSize": 8.5, "titleFontSize": 9.5, "tickSize": 3, "titlePadding": 2, "labelPadding": 1}}, "text": {"field": "t", "type": "nominal"}}}
]},
{"layer": [
 {"data": {"name": "cell"}, "mark": {"type": "line", "color": "#2f2fd0", "strokeDash": [4,3], "strokeWidth": 1.6, "interpolate": "basis"}, "encoding": {"x": {"field": "x", "type": "quantitative", "scale": {"domain": [-0.0056, 0.108], "nice": false, "zero": false}, "axis": {"values": [0,0.01,0.02,0.03,0.04,0.05,0.06,0.07,0.08,0.09,0.1], "labelExpr": "round(datum.value*100)%2==0 ? format(datum.value, '.2f') : ''", "title": "X of La₀.₈Sr₀.₂Mn₁₋ₓScₓO₃₋δ", "grid": true, "gridColor": "#c9cbe6", "gridDash": [2,1], "labelColor": "#2a2ab8", "labelFontSize": 8.5, "titleFontSize": 10, "domainColor": "#333", "tickColor": "#333", "labelPadding": 2, "titlePadding": 2}}, "y": {"field": "v", "type": "quantitative", "scale": {"domain": [349, 356], "zero": false, "nice": false}, "axis": {"orient": "right", "values": [349,350,351,352,353,354,355,356], "title": "Volume(Å³)", "titleColor": "#2f2fd0", "labelColor": "#2f2fd0", "domainColor": "#2f2fd0", "tickColor": "#2f2fd0", "grid": true, "gridColor": "#c9cbe6", "gridDash": [2,1], "labelFontSize": 8.5, "titleFontSize": 9, "tickSize": 2, "titlePadding": 0, "labelPadding": 1}}}},
 {"data": {"name": "cell"}, "mark": {"type": "point", "filled": false, "fill": "#ffffff", "size": 70, "strokeWidth": 1.1, "opacity": 1}, "encoding": {"x": {"field": "x", "type": "quantitative", "scale": {"domain": [-0.0056, 0.108], "nice": false, "zero": false}, "axis": {"values": [0,0.01,0.02,0.03,0.04,0.05,0.06,0.07,0.08,0.09,0.1], "labelExpr": "round(datum.value*100)%2==0 ? format(datum.value, '.2f') : ''", "title": "X of La₀.₈Sr₀.₂Mn₁₋ₓScₓO₃₋δ", "grid": true, "gridColor": "#c9cbe6", "gridDash": [2,1], "labelColor": "#2a2ab8", "labelFontSize": 8.5, "titleFontSize": 10, "domainColor": "#333", "tickColor": "#333", "labelPadding": 2, "titlePadding": 2}}, "y": {"field": "v", "type": "quantitative", "scale": {"domain": [349, 356], "zero": false, "nice": false}, "axis": {"orient": "right", "values": [349,350,351,352,353,354,355,356], "title": "Volume(Å³)", "titleColor": "#2f2fd0", "labelColor": "#2f2fd0", "domainColor": "#2f2fd0", "tickColor": "#2f2fd0", "grid": true, "gridColor": "#c9cbe6", "gridDash": [2,1], "labelFontSize": 8.5, "titleFontSize": 9, "tickSize": 2, "titlePadding": 0, "labelPadding": 1}},
  "color": {"datum": "Volume", "type": "nominal", "scale": {"domain": ["Cell Parameters for a & b","Volume"], "range": ["#e8322a","#2f2fd0"]}, "legend": {"title": null, "orient": "none", "legendX": 52, "legendY": 86, "labelFontSize": 6.5, "rowPadding": 4, "symbolSize": 70, "symbolStrokeWidth": 1.1, "labelOffset": 3, "padding": 0}},
  "shape": {"datum": "Volume", "type": "nominal", "scale": {"domain": ["Cell Parameters for a & b","Volume"], "range": ["M-1,-1H1V1H-1Z M-1,-1L1,1 M-1,1L1,-1 M0.7,0A0.7,0.7 0 1,1 -0.7,0A0.7,0.7 0 1,1 0.7,0","M-1,-1H1V1H-1Z M-1,-1L1,1 M-1,1L1,-1"]}, "legend": {"title": null, "orient": "none", "legendX": 52, "legendY": 86, "labelFontSize": 6.5, "rowPadding": 4, "symbolSize": 70, "symbolStrokeWidth": 1.1, "labelOffset": 3, "padding": 0}}}}
]}
],
"resolve": {"scale": {"y": "independent"}}}
], "spacing": 32, "bounds": "flush", "center": true, "resolve": {"scale": {"color": "independent", "shape": "independent"}}}
],
"config": {
"view": {"stroke": "#555", "strokeWidth": 1},
"font": "Liberation Serif",
"axis": {"labelFont": "Liberation Serif", "titleFont": "Liberation Serif", "labelFontWeight": "bold", "titleFontWeight": "bold", "labelOverlap": false},
"axisX": {"grid": false, "labelFlush": false, "labelOverlap": false, "labelFontSize": 9.5, "titleFontSize": 11, "tickSize": 3, "labelPadding": 1, "titlePadding": 1, "domainColor": "#555", "tickColor": "#555", "labelColor": "#111", "titleColor": "#111"},
"legend": {"labelFont": "Liberation Serif", "labelFontWeight": "bold", "labelColor": "#111"},
"text": {"font": "Liberation Serif", "color": "#111"}
}
}
